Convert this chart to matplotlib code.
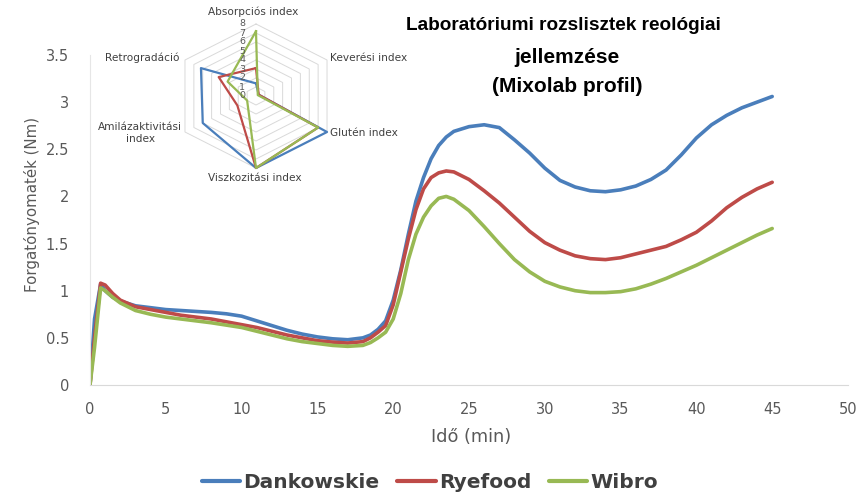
import numpy as np
import matplotlib
matplotlib.use('Agg')
import matplotlib.pyplot as plt
from matplotlib.patches import Rectangle

# Mixolab curves (time in min, torque in Nm)
time_min = [0, 0.3, 0.7, 1.0, 1.5, 2, 3, 4, 5, 6, 7, 8, 9, 10, 11, 12, 13, 14, 15, 16, 17,
            18, 18.5, 19, 19.5, 20, 20.5, 21, 21.5, 22, 22.5, 23, 23.5, 24, 25, 26, 27, 28,
            29, 30, 31, 32, 33, 34, 35, 36, 37, 38, 39, 40, 41, 42, 43, 44, 45]
dankowskie = [0, 0.70, 1.07, 1.00, 0.93, 0.89, 0.84, 0.82, 0.80, 0.79, 0.78, 0.77, 0.755, 0.73,
              0.68, 0.63, 0.58, 0.54, 0.51, 0.49, 0.48, 0.50, 0.53, 0.59, 0.68, 0.90, 1.22, 1.60,
              1.95, 2.20, 2.40, 2.54, 2.63, 2.69, 2.74, 2.76, 2.73, 2.60, 2.46, 2.30, 2.17, 2.10,
              2.06, 2.05, 2.07, 2.11, 2.18, 2.28, 2.44, 2.62, 2.76, 2.86, 2.94, 3.00, 3.06]
ryefood = [0, 0.50, 1.08, 1.06, 0.97, 0.90, 0.83, 0.80, 0.77, 0.74, 0.72, 0.70, 0.67, 0.64,
           0.61, 0.57, 0.53, 0.50, 0.47, 0.455, 0.445, 0.46, 0.50, 0.56, 0.63, 0.85, 1.20, 1.55,
           1.86, 2.08, 2.20, 2.25, 2.27, 2.26, 2.18, 2.06, 1.93, 1.78, 1.63, 1.51, 1.43, 1.37,
           1.34, 1.33, 1.35, 1.39, 1.43, 1.47, 1.54, 1.62, 1.74, 1.88, 1.99, 2.08, 2.15]
wibro = [0, 0.40, 1.03, 1.00, 0.93, 0.87, 0.79, 0.75, 0.72, 0.70, 0.68, 0.66, 0.635, 0.61,
         0.57, 0.53, 0.49, 0.46, 0.44, 0.42, 0.41, 0.42, 0.45, 0.50, 0.56, 0.70, 0.97, 1.33,
         1.60, 1.78, 1.90, 1.98, 2.00, 1.97, 1.85, 1.68, 1.50, 1.33, 1.20, 1.10, 1.04, 1.00,
         0.98, 0.98, 0.99, 1.02, 1.07, 1.13, 1.20, 1.27, 1.35, 1.43, 1.51, 1.59, 1.66]

# radar (indices 0-8)
radar_labels = ['Absorpciós index', 'Keverési index', 'Glutén index',
                'Viszkozitási index', 'Amilázaktivitási\nindex', 'Retrogradáció']
radar_dankowskie = [1.4, 0.3, 8.0, 8.0, 6.0, 6.2]
radar_ryefood = [3.1, 0.3, 7.0, 8.0, 2.1, 4.2]
radar_wibro = [7.2, 0.2, 7.0, 8.0, 1.0, 3.2]

names = ['Dankowskie', 'Ryefood', 'Wibro']
colors = ['#4a7ebb', '#be4b48', '#98b954']

fig = plt.figure(figsize=(8.65, 4.96), dpi=100)
ax = fig.add_axes([90 / 865, 1 - 385 / 496, 758 / 865, 330 / 496])

for vals, name, c in zip([dankowskie, ryefood, wibro], names, colors):
    ax.plot(time_min, vals, color=c, lw=2.6, label=name, solid_capstyle='round')

ax.set_xlim(0, 50)
ax.set_ylim(0, 3.5)
ax.set_xticks(np.arange(0, 51, 5))
ax.set_yticks(np.arange(0, 3.6, 0.5))
ax.set_yticklabels(['0', '0.5', '1', '1.5', '2', '2.5', '3', '3.5'])
ax.tick_params(length=0, labelsize=10.5, labelcolor='#595959')
ax.tick_params(axis='y', pad=15)
ax.tick_params(axis='x', pad=12)
for s in ['top', 'right']:
    ax.spines[s].set_visible(False)
ax.spines['bottom'].set_color('#d9d9d9')
ax.spines['left'].set_color('#e6e6e6')

fig.text(471 / 865, 1 - 437 / 496, 'Idő (min)', ha='center', va='center',
         fontsize=12.8, color='#595959')
fig.text(32 / 865, 1 - 204 / 496, 'Forgatónyomaték (Nm)', ha='center', va='center',
         rotation=90, fontsize=10.8, color='#595959')

title_font = 'Liberation Sans'
fig.text(563 / 865, 1 - 26 / 496, 'Laboratóriumi rozslisztek reológiai',
         ha='center', va='center', fontsize=13.7, fontweight='bold', family=title_font)
fig.text(567 / 865, 1 - 72 / 496, 'jellemzése\n(Mixolab profil)',
         ha='center', va='center', fontsize=15, fontweight='bold', family=title_font,
         linespacing=1.7)

leg = ax.legend(loc='center', bbox_to_anchor=(340 / 758, -(483 - 385) / 330),
                ncol=3, frameon=False, fontsize=14.5, handlelength=1.9,
                handletextpad=0.15, columnspacing=0.9)
for t in leg.get_texts():
    t.set_color('#404040')
    t.set_fontweight('bold')
for h in leg.get_lines():
    h.set_linewidth(3)

# radar inset
rax = fig.add_axes([166 / 865, 1 - 176 / 496, 180 / 865, 160 / 496])
rax.set_xlim(-90 / 10.25, 90 / 10.25)
rax.set_ylim(-80 / 9, 80 / 9)
rax.axis('off')
ang = np.deg2rad(np.arange(6) * 60)
ang_closed = np.append(ang, ang[0])
for r in range(1, 9):
    rax.plot(r * np.sin(ang_closed), r * np.cos(ang_closed), color='#d9d9d9', lw=0.7)
for vals, c in zip([radar_dankowskie, radar_ryefood, radar_wibro], colors):
    v = np.append(vals, vals[0])
    rax.plot(v * np.sin(ang_closed), v * np.cos(ang_closed), color=c, lw=1.6, clip_on=False)
for r in range(0, 9):
    rax.text(-1.35, r, str(r), ha='center', va='center', fontsize=6.8, color='#595959')

lab_pos = [(-0.3, 9.35, 'center'), (7.2, 4.2, 'left'), (7.2, -4.1, 'left'),
           (-0.1, -9.1, 'center'), (-7.2, -4.1, 'right'), (-7.5, 4.2, 'right')]
for (x, y, ha), lab in zip(lab_pos, radar_labels):
    rax.text(x, y, lab, ha=ha, va='center', fontsize=7.6, color='#404040',
             multialignment='center', clip_on=False)

fig.patches.append(Rectangle((-2, 1 - 14 / 496), 80 / 865, 20 / 496, transform=fig.transFigure,
                             fill=False, edgecolor='#222222', lw=1.5))

fig.savefig('out.png', dpi=100)
